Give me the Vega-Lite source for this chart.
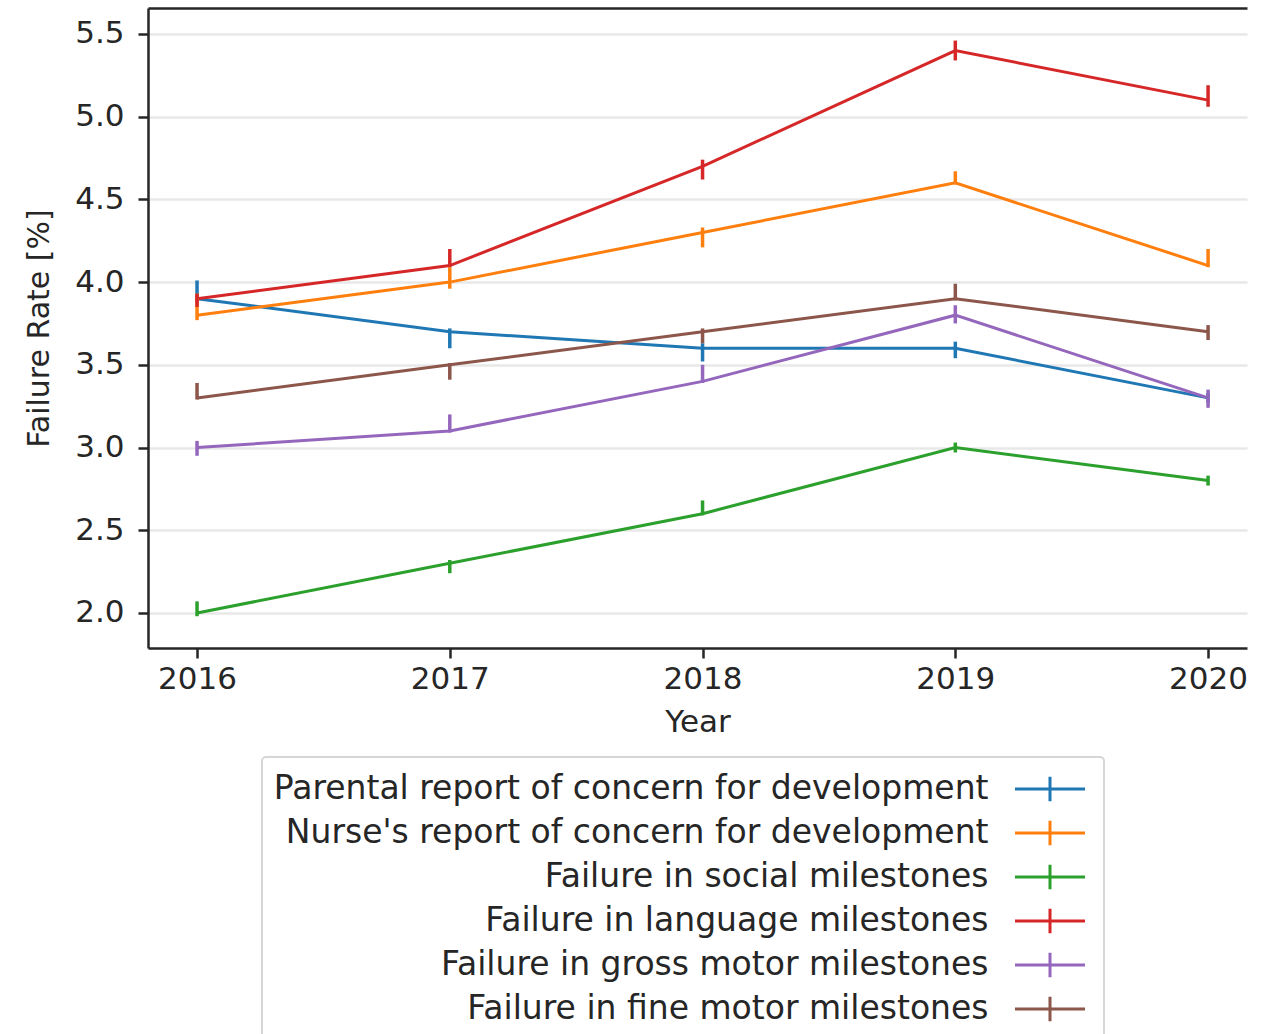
{
  "$schema": "https://vega.github.io/schema/vega-lite/v6.json",
  "autosize": "none",
  "width": 1099,
  "height": 640,
  "padding": {"left": 148, "top": 8, "right": 31, "bottom": 386},
  "background": "white",
  "config": {
    "font": "DejaVu Sans",
    "view": {"stroke": null},
    "axis": {
      "labelFont": "DejaVu Sans", "labelFontSize": 31, "labelColor": "#262626",
      "titleFont": "DejaVu Sans", "titleFontSize": 31, "titleColor": "#262626", "titleFontWeight": "normal",
      "domainColor": "#262626", "domainWidth": 2.5,
      "tickColor": "#262626", "tickWidth": 2.5, "tickSize": 10
    },
    "legend": {"strokeWidth": 2}
  },
  "data": {"values": [
    {"series": "Parental report of concern for development", "year": 2016, "rate": 3.9, "lo": 3.88, "hi": 4.01},
    {"series": "Parental report of concern for development", "year": 2017, "rate": 3.7, "lo": 3.6, "hi": 3.72},
    {"series": "Parental report of concern for development", "year": 2018, "rate": 3.6, "lo": 3.52, "hi": 3.63},
    {"series": "Parental report of concern for development", "year": 2019, "rate": 3.6, "lo": 3.54, "hi": 3.64},
    {"series": "Parental report of concern for development", "year": 2020, "rate": 3.3, "lo": 3.27, "hi": 3.33},
    {"series": "Nurse's report of concern for development", "year": 2016, "rate": 3.8, "lo": 3.77, "hi": 3.93},
    {"series": "Nurse's report of concern for development", "year": 2017, "rate": 4.0, "lo": 3.96, "hi": 4.09},
    {"series": "Nurse's report of concern for development", "year": 2018, "rate": 4.3, "lo": 4.21, "hi": 4.33},
    {"series": "Nurse's report of concern for development", "year": 2019, "rate": 4.6, "lo": 4.59, "hi": 4.67},
    {"series": "Nurse's report of concern for development", "year": 2020, "rate": 4.1, "lo": 4.09, "hi": 4.2},
    {"series": "Failure in social milestones", "year": 2016, "rate": 2.0, "lo": 1.98, "hi": 2.07},
    {"series": "Failure in social milestones", "year": 2017, "rate": 2.3, "lo": 2.24, "hi": 2.32},
    {"series": "Failure in social milestones", "year": 2018, "rate": 2.6, "lo": 2.59, "hi": 2.68},
    {"series": "Failure in social milestones", "year": 2019, "rate": 3.0, "lo": 2.97, "hi": 3.03},
    {"series": "Failure in social milestones", "year": 2020, "rate": 2.8, "lo": 2.77, "hi": 2.83},
    {"series": "Failure in language milestones", "year": 2016, "rate": 3.9, "lo": 3.85, "hi": 3.93},
    {"series": "Failure in language milestones", "year": 2017, "rate": 4.1, "lo": 4.09, "hi": 4.2},
    {"series": "Failure in language milestones", "year": 2018, "rate": 4.7, "lo": 4.62, "hi": 4.74},
    {"series": "Failure in language milestones", "year": 2019, "rate": 5.4, "lo": 5.34, "hi": 5.46},
    {"series": "Failure in language milestones", "year": 2020, "rate": 5.1, "lo": 5.06, "hi": 5.19},
    {"series": "Failure in gross motor milestones", "year": 2016, "rate": 3.0, "lo": 2.95, "hi": 3.04},
    {"series": "Failure in gross motor milestones", "year": 2017, "rate": 3.1, "lo": 3.09, "hi": 3.2},
    {"series": "Failure in gross motor milestones", "year": 2018, "rate": 3.4, "lo": 3.39, "hi": 3.5},
    {"series": "Failure in gross motor milestones", "year": 2019, "rate": 3.8, "lo": 3.75, "hi": 3.86},
    {"series": "Failure in gross motor milestones", "year": 2020, "rate": 3.3, "lo": 3.24, "hi": 3.35},
    {"series": "Failure in fine motor milestones", "year": 2016, "rate": 3.3, "lo": 3.29, "hi": 3.39},
    {"series": "Failure in fine motor milestones", "year": 2017, "rate": 3.5, "lo": 3.41, "hi": 3.51},
    {"series": "Failure in fine motor milestones", "year": 2018, "rate": 3.7, "lo": 3.63, "hi": 3.72},
    {"series": "Failure in fine motor milestones", "year": 2019, "rate": 3.9, "lo": 3.89, "hi": 3.99},
    {"series": "Failure in fine motor milestones", "year": 2020, "rate": 3.7, "lo": 3.65, "hi": 3.74}
  ]},
  "encoding": {
    "color": {
      "field": "series", "type": "nominal",
      "scale": {
        "domain": ["Parental report of concern for development", "Nurse's report of concern for development", "Failure in social milestones", "Failure in language milestones", "Failure in gross motor milestones", "Failure in fine motor milestones"],
        "range": ["#1f77b4", "#ff7f0e", "#2ca02c", "#d62728", "#9467bd", "#8c564b"]
      },
      "legend": {
        "title": null,
        "orient": "none", "legendX": 114, "legendY": 749,
        "direction": "vertical",
        "symbolType": "M-2,0H2M0,-0.7V0.7",
        "symbolSize": 1225, "symbolStrokeWidth": 3, "symbolFillColor": "transparent",
        "symbolOffset": 756,
        "labelFont": "DejaVu Sans", "labelFontSize": 33, "labelColor": "#262626",
        "labelAlign": "right", "labelOffset": -80.5, "labelLimit": 2000,
        "rowPadding": 6,
        "padding": 13, "strokeColor": "#d6d6d6", "cornerRadius": 4
      }
    }
  },
  "layer": [
    {
      "mark": {"type": "line", "strokeWidth": 3},
      "encoding": {
        "x": {
          "field": "year", "type": "quantitative",
          "scale": {"domain": [2015.806, 2020.154], "nice": false, "zero": false},
          "axis": {"values": [2016, 2017, 2018, 2019, 2020], "format": "d", "grid": false, "title": "Year", "titlePadding": 13, "labelPadding": 6}
        },
        "y": {
          "field": "rate", "type": "quantitative",
          "scale": {"domain": [1.788, 5.657], "nice": false, "zero": false},
          "axis": {"values": [2.0, 2.5, 3.0, 3.5, 4.0, 4.5, 5.0, 5.5], "format": ".1f", "grid": true, "gridColor": "#e8e8e8", "gridWidth": 2.5, "title": "Failure Rate [%]", "titleFontSize": 30, "titlePadding": 20, "labelPadding": 14}
        }
      }
    },
    {
      "mark": {"type": "rule", "strokeWidth": 3.5},
      "encoding": {
        "x": {
          "field": "year", "type": "quantitative",
          "axis": {"orient": "top", "labels": false, "ticks": false, "grid": false, "title": null, "domain": true}
        },
        "y": {"field": "lo", "type": "quantitative"},
        "y2": {"field": "hi"}
      }
    }
  ],
  "resolve": {"axis": {"x": "independent"}}
}
